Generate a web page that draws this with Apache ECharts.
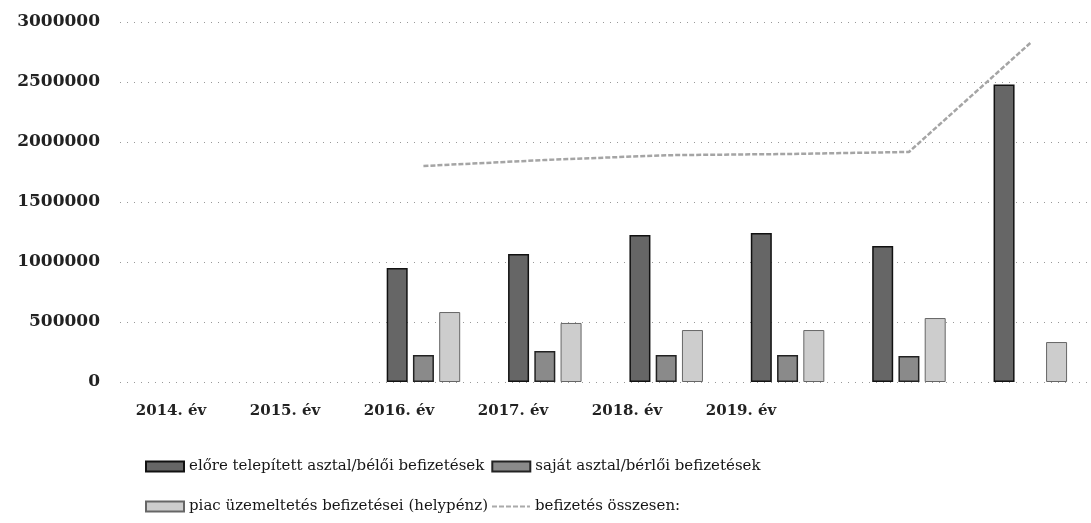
<!DOCTYPE html>
<html>
<head>
<meta charset="utf-8">
<script src="https://cdn.jsdelivr.net/npm/echarts@6/dist/echarts.min.js"></script>
<style>
html,body{margin:0;padding:0;background:#fff;}
#chart{width:1091px;height:523px;}
</style>
</head>
<body>
<div id="chart"></div>
<script>
// Data
const yearLabels = ['2014. év', '2015. év', '2016. év', '2017. év', '2018. év', '2019. év'];
const categories = ['2014. év', '2015. év', '2016. év', '2017. év', '2018. év', '2019. év', '', ' '];
const seriesNames = [
  'előre telepített asztal/bélői befizetések',
  'saját asztal/bérlői befizetések',
  'piac üzemeltetés befizetései (helypénz)',
  'befizetés összesen:'
];
const elore = [null, null, 950000, 1067000, 1225000, 1242000, 1133000, 2480000];
const sajat = [null, null, 225000, 258000, 225000, 225000, 217000, null];
const piac = [null, null, 583000, 492000, 433000, 433000, 533000, 333000];
const osszesen = [null, null, 1800000, 1850000, 1890000, 1900000, 1917000, 2825000];
const yTicks = { min: 0, max: 3000000, interval: 500000 };

const chart = echarts.init(document.getElementById('chart'), null, { renderer: 'canvas' });
const serif = 'DejaVu Serif';
const legendFont = { fontFamily: 'DejaVu Serif', fontSize: 15, color: '#151515' };
const dashIcon = 'path://M0,0 L0.1,0 L0.1,0.1 Z M0,4 L5,4 L5,6 L0,6 Z M7,4 L12,4 L12,6 L7,6 Z M14,4 L19,4 L19,6 L14,6 Z M21,4 L26,4 L26,6 L21,6 Z M28,4 L33,4 L33,6 L28,6 Z M35,4 L38,4 L38,6 L35,6 Z M37.9,9.9 L38,9.9 L38,10 Z';

const option = {
  backgroundColor: '#fff',
  animation: false,
  grid: [
    { left: 120, width: 984, top: 22, height: 360 },
    { left: 114, width: 684, top: 22, height: 360 }
  ],
  legend: [
    {
      data: [{ name: seriesNames[0], icon: 'rect' }, { name: seriesNames[1], icon: 'rect' }],
      left: 140, top: 454, itemWidth: 38, itemHeight: 10, itemGap: 7,
      textStyle: legendFont
    },
    {
      data: [{ name: seriesNames[2], icon: 'rect' }, { name: seriesNames[3], icon: dashIcon, itemStyle: { color: '#aaa' } }],
      left: 140, top: 494, itemWidth: 38, itemHeight: 10, itemGap: 4,
      textStyle: legendFont
    }
  ],
  xAxis: [
    {
      type: 'category', gridIndex: 0, data: categories,
      axisLine: { show: false }, axisTick: { show: false }, axisLabel: { show: false }
    },
    {
      type: 'category', gridIndex: 1, data: yearLabels,
      axisLine: { show: false }, axisTick: { show: false },
      axisLabel: { margin: 22, fontFamily: serif, fontSize: 15, fontWeight: 'bold', color: '#222' }
    }
  ],
  yAxis: [
    {
      type: 'value', gridIndex: 0, min: yTicks.min, max: yTicks.max, interval: yTicks.interval,
      axisLine: { show: false }, axisTick: { show: false },
      axisLabel: { margin: 20, fontFamily: serif, fontSize: 17, fontWeight: 'bold', color: '#222',
        formatter: function (v) { return String(v); } },
      splitLine: { show: true, lineStyle: { type: [1, 6], color: '#999', width: 1 } }
    },
    {
      type: 'value', gridIndex: 1, min: yTicks.min, max: yTicks.max, show: false
    }
  ],
  series: [
    {
      name: seriesNames[0], type: 'bar', data: elore, barWidth: 21, barGap: '25%',
      itemStyle: { color: '#666', borderColor: '#111', borderWidth: 1.5 }
    },
    {
      name: seriesNames[1], type: 'bar', data: sajat, barWidth: 21, barGap: '25%',
      itemStyle: { color: '#8a8a8a', borderColor: '#222', borderWidth: 1.5 }
    },
    {
      name: seriesNames[2], type: 'bar', data: piac, barWidth: 21, barGap: '25%',
      itemStyle: { color: '#cdcdcd', borderColor: '#666', borderWidth: 1 }
    },
    {
      name: seriesNames[3], type: 'line', data: osszesen, symbol: 'none', connectNulls: false,
      lineStyle: { color: '#a5a5a5', width: 2.5, type: [5, 2] },
      itemStyle: { color: '#a5a5a5' }
    }
  ]
};
chart.setOption(option);
</script>
</body>
</html>
